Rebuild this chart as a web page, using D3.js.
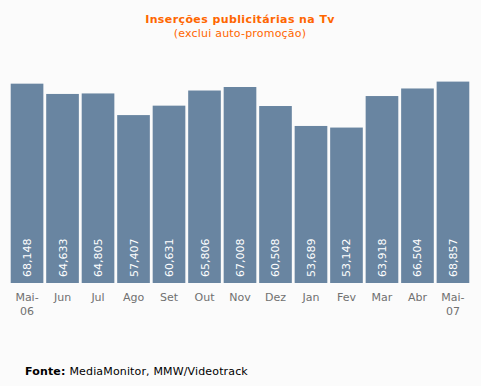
<!DOCTYPE html>
<html>
<head>
<meta charset="utf-8">
<script src="https://cdn.jsdelivr.net/npm/d3@7"></script>
<style>
  body { margin: 0; background: #fbfbfb; }
  svg { display: block; }
</style>
</head>
<body>
<script>
// chart data
const months = ["Mai-|06", "Jun", "Jul", "Ago", "Set", "Out", "Nov", "Dez", "Jan", "Fev", "Mar", "Abr", "Mai-|07"];
const insercoes = [68148, 64633, 64805, 57407, 60631, 65806, 67008, 60508, 53689, 53142, 63918, 66504, 68857];
const titleText = "Inserções publicitárias na Tv";
const subtitleText = "(exclui auto-promoção)";

const width = 481, height = 386;
const font = "DejaVu Sans, Verdana, sans-serif";

let svg = d3.select("body").append("svg")
    .attr("width", width)
    .attr("height", height);

svg.append("rect")
    .attr("width", width)
    .attr("height", height)
    .attr("fill", "#fbfbfb");

let x = d3.scaleBand()
    .domain(months)
    .range([10, 470])
    .paddingInner(0.08)
    .paddingOuter(0.02);

let y = d3.scaleLinear()
    .domain([0, 70000])
    .range([283, 78.25]);

// bars
svg.selectAll(".bar")
    .data(insercoes)
    .enter()
    .append("rect")
    .classed("bar", true)
    .attr("x", (d, i) => x(months[i]))
    .attr("y", d => y(d))
    .attr("width", x.bandwidth())
    .attr("height", d => y(0) - y(d))
    .attr("fill", "#6985a1");

// value labels inside bars
const fmt = d3.format(",");
svg.selectAll(".val")
    .data(insercoes)
    .enter()
    .append("text")
    .classed("val", true)
    .attr("transform", (d, i) => `translate(${x(months[i]) + x.bandwidth() / 2 + 4},277) rotate(-90)`)
    .attr("font-family", font)
    .attr("font-size", "11px")
    .attr("fill", "#ffffff")
    .text(d => fmt(d));

// month labels
let xAxis = svg.append("g");
months.forEach(m => {
    let lines = m.split("|");
    let t = xAxis.append("text")
        .attr("x", x(m) + x.bandwidth() / 2)
        .attr("y", 301)
        .attr("text-anchor", "middle")
        .attr("font-family", font)
        .attr("font-size", "11px")
        .attr("fill", "#707070");
    lines.forEach((l, j) => {
        t.append("tspan")
            .attr("x", x(m) + x.bandwidth() / 2)
            .attr("dy", j === 0 ? 0 : 14)
            .text(l);
    });
});

// titles
svg.append("text")
    .attr("x", 240)
    .attr("y", 23)
    .attr("text-anchor", "middle")
    .attr("font-family", font)
    .attr("font-size", "11px")
    .attr("font-weight", "bold")
    .attr("letter-spacing", "0.4px")
    .attr("fill", "#ff6600")
    .text(titleText);

svg.append("text")
    .attr("x", 240)
    .attr("y", 37)
    .attr("text-anchor", "middle")
    .attr("font-family", font)
    .attr("font-size", "11px")
    .attr("letter-spacing", "0.2px")
    .attr("fill", "#ff6600")
    .text(subtitleText);

// source
let src = svg.append("text")
    .attr("x", 25)
    .attr("y", 375)
    .attr("font-family", font)
    .attr("font-size", "11px")
    .attr("letter-spacing", "0.15px")
    .attr("fill", "#000000");
src.append("tspan").attr("font-weight", "bold").text("Fonte: ");
src.append("tspan").text("MediaMonitor, MMW/Videotrack");
</script>
</body>
</html>
